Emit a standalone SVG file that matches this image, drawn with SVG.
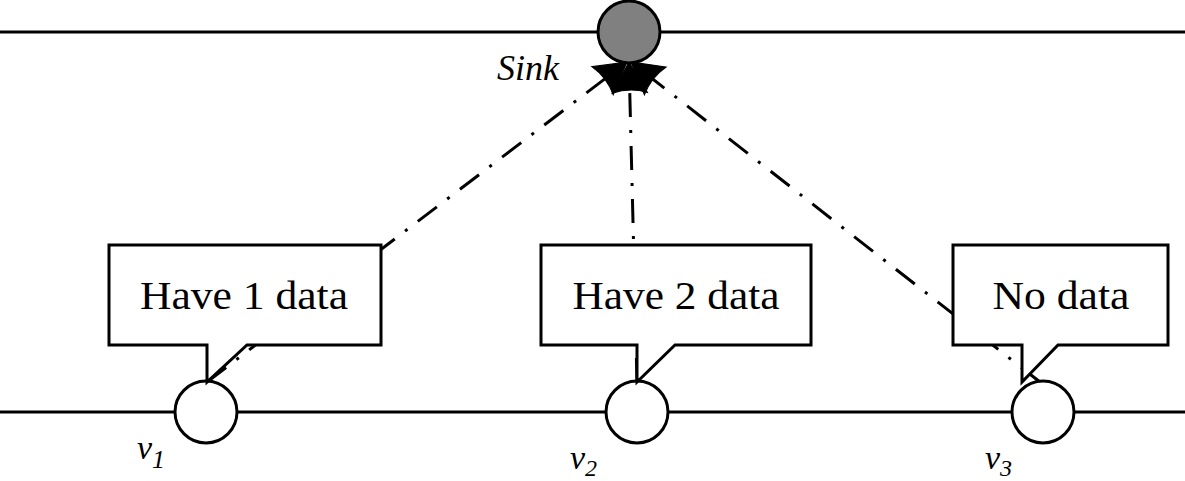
<svg xmlns="http://www.w3.org/2000/svg" width="1185" height="481" viewBox="0 0 1185 481">
<style>
.wire{stroke:#000;stroke-width:3;fill:none}
.conn{stroke:#000;stroke-width:3;fill:none;stroke-dasharray:24 13 3 13}
.node{fill:#fff;stroke:#000;stroke-width:3}
.box{fill:#fff;stroke:#000;stroke-width:3;stroke-linejoin:miter}
.lbl{font-family:"Liberation Serif","DejaVu Serif",serif;font-size:39px;fill:#000;text-anchor:middle}
.it{font-family:"Liberation Serif","DejaVu Serif",serif;font-style:italic;fill:#000}
</style>
<defs>
<marker id="ah" markerUnits="userSpaceOnUse" orient="auto" markerWidth="44" markerHeight="44" viewBox="-34 -20 38 40" refX="0" refY="0">
<path d="M0,0 L-28,-16 Q-23,0 -28,16 Z" fill="#000" stroke="#000" stroke-width="1"/>
</marker>
</defs>
<g id="wires">
<line class="wire" x1="0" y1="32" x2="1185" y2="32"/>
<line class="wire" x1="0" y1="412" x2="1185" y2="412"/>
</g>
<g id="connectors">
<line class="conn" x1="207" y1="382" x2="627" y2="62" marker-end="url(#ah)"/>
<line class="conn" x1="637" y1="382" x2="629" y2="62" marker-end="url(#ah)"/>
<line class="conn" x1="1040" y1="382" x2="631" y2="62" marker-end="url(#ah)"/>
</g>
<g id="sink">
<circle cx="629" cy="32" r="31" fill="#808080" stroke="#000" stroke-width="3"/>
<text class="it" x="497" y="80" font-size="36">Sink</text>
</g>
<g id="v1">
<circle class="node" cx="206" cy="412" r="31"/>
<path class="box" d="M109,245 H381 V345 H247 L207,382 V345 H109 Z"/>
<text class="lbl" x="244" y="309" textLength="208" lengthAdjust="spacingAndGlyphs">Have 1 data</text>
<text class="it" x="137" y="459" font-size="34">v<tspan font-size="26" dy="9">1</tspan></text>
</g>
<g id="v2">
<circle class="node" cx="637" cy="412" r="31"/>
<path class="box" d="M541,245 H811 V345 H675 L637,382 V345 H541 Z"/>
<text class="lbl" x="676" y="309" textLength="207" lengthAdjust="spacingAndGlyphs">Have 2 data</text>
<text class="it" x="570" y="469" font-size="34">v<tspan font-size="24" dy="7">2</tspan></text>
</g>
<g id="v3">
<circle class="node" cx="1043" cy="412" r="31"/>
<path class="box" d="M953,245 H1168 V345 H1058 L1022,382 V345 H953 Z"/>
<text class="lbl" x="1061" y="309" textLength="137" lengthAdjust="spacingAndGlyphs">No data</text>
<text class="it" x="985" y="469" font-size="34">v<tspan font-size="24" dy="7">3</tspan></text>
</g>
</svg>
